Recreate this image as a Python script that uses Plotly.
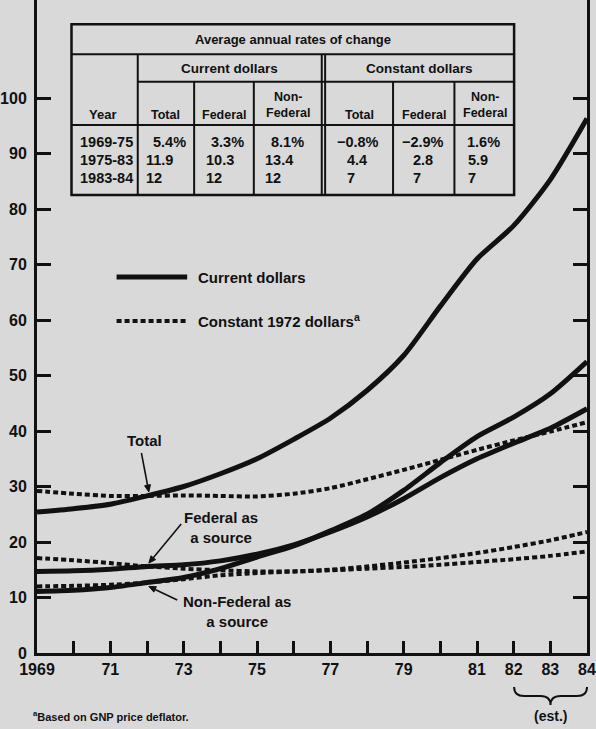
import math
import plotly.graph_objects as go

# ---- data -------------------------------------------------------------
years = list(range(1969, 1985))

# Billions of dollars
total_current = [25.4, 26.0, 26.8, 28.3, 30.0, 32.3, 35.0, 38.5, 42.3, 47.3, 53.6, 62.5, 71.0, 77.0, 85.3, 96.3]
total_constant = [29.2, 28.7, 28.3, 28.3, 28.4, 28.3, 28.2, 28.7, 29.7, 31.3, 33.0, 34.8, 36.6, 38.3, 39.9, 41.6]
federal_current = [14.7, 14.8, 15.1, 15.6, 15.9, 16.6, 17.8, 19.5, 21.8, 24.5, 27.8, 31.6, 35.0, 37.8, 40.5, 44.0]
nonfederal_current = [11.1, 11.3, 11.8, 12.7, 13.6, 15.2, 17.3, 19.3, 22.0, 25.0, 29.3, 34.3, 39.0, 42.5, 46.7, 52.5]
federal_constant = [17.1, 16.7, 16.2, 15.6, 15.2, 14.9, 14.7, 14.7, 14.9, 15.2, 15.5, 15.9, 16.4, 16.9, 17.5, 18.3]
nonfederal_constant = [12.0, 12.1, 12.3, 12.7, 13.3, 14.0, 14.4, 14.7, 15.0, 15.6, 16.3, 17.1, 18.0, 19.1, 20.3, 21.8]

y_ticks = list(range(0, 101, 10))
x_label_years = [1969, 1971, 1973, 1975, 1977, 1979, 1981, 1982, 1983, 1984]
x_tick_labels = ["1969", "71", "73", "75", "77", "79", "81", "82", "83", "84"]

# Average annual rates of change table
rate_title = "Average annual rates of change"
rate_groups = ["Current dollars", "Constant dollars"]
rate_columns = ["Total", "Federal", "Non-<br>Federal", "Total", "Federal", "Non-<br>Federal"]
rate_periods = ["1969-75", "1975-83", "1983-84"]
rate_current_total = ["5.4%", "11.9", "12"]
rate_current_federal = ["3.3%", "10.3", "12"]
rate_current_nonfederal = ["8.1%", "13.4", "12"]
rate_constant_total = ["\u22120.8%", "4.4", "7"]
rate_constant_federal = ["\u22122.9%", "2.8", "7"]
rate_constant_nonfederal = ["1.6%", "5.9", "7"]

# ---- layout geometry (pixels in a 596 x 729 page) ------------------------
W, H = 596, 729
PL, PR, PT, PB = 37, 590, 0, 653
X0, X1 = 1969, 1984
Y_TOP = 117.66

FONT = "Liberation Sans, Arial, sans-serif"
INK = "#111111"
BG = "#d9d9d9"


def px(x):
    return (x - PL) / (PR - PL)


def py(y):
    return (PB - y) / (PB - PT)


def data_to_pixel(xv, yv):
    return (PL + (xv - X0) / (X1 - X0) * (PR - PL),
            PB - yv / Y_TOP * (PB - PT))


fig = go.Figure()

solid = dict(color=INK, width=5, shape="spline", smoothing=0.7)
dotted = dict(color=INK, width=4, dash="5px,3px", shape="spline", smoothing=0.7)

for series in (total_current, federal_current, nonfederal_current):
    fig.add_trace(go.Scatter(x=years, y=series, mode="lines", line=solid,
                             showlegend=False, hoverinfo="skip"))
for series in (total_constant, federal_constant, nonfederal_constant):
    fig.add_trace(go.Scatter(x=years, y=series, mode="lines", line=dotted,
                             showlegend=False, hoverinfo="skip"))

shapes = []
annotations = []


def hline(x0, x1, y, w=2):
    shapes.append(dict(type="line", xref="paper", yref="paper",
                       x0=px(x0), x1=px(x1), y0=py(y), y1=py(y),
                       line=dict(color=INK, width=w)))


def vline(x, y0, y1, w=2):
    shapes.append(dict(type="line", xref="paper", yref="paper",
                       x0=px(x), x1=px(x), y0=py(y0), y1=py(y1),
                       line=dict(color=INK, width=w)))


def text(s, x, y, size=13, xanchor="center", yanchor="middle", align="center"):
    annotations.append(dict(text=s, xref="paper", yref="paper", x=px(x), y=py(y),
                            xanchor=xanchor, yanchor=yanchor, align=align,
                            showarrow=False,
                            font=dict(family=FONT, size=size, color=INK, weight="bold")))


def pointer(tail, tip, head_len=7, head_half=3):
    """Thin leader line with a filled arrowhead, in page pixels."""
    (x0, y0), (x1, y1) = tail, tip
    ang = math.atan2(y1 - y0, x1 - x0)
    bx, by = x1 - head_len * math.cos(ang), y1 - head_len * math.sin(ang)
    nx, ny = -math.sin(ang) * head_half, math.cos(ang) * head_half
    shapes.append(dict(type="line", xref="paper", yref="paper",
                       x0=px(x0), y0=py(y0), x1=px(bx), y1=py(by),
                       line=dict(color=INK, width=1.6)))
    path = (f"M {px(x1)},{py(y1)} L {px(bx + nx)},{py(by + ny)} "
            f"L {px(bx - nx)},{py(by - ny)} Z")
    shapes.append(dict(type="path", xref="paper", yref="paper", path=path,
                       fillcolor=INK, line=dict(color=INK, width=1)))


# ---- rates table ------------------------------------------------------------
TL, TR, TT, TB = 71.7, 516.7, 24.3, 195
shapes.append(dict(type="rect", xref="paper", yref="paper",
                   x0=px(TL), x1=px(TR), y0=py(TB), y1=py(TT),
                   line=dict(color=INK, width=2.5)))
hline(TL, TR, 54.3)
hline(138.3, TR, 81.7)
hline(TL, TR, 125)
vline(138.3, 54.3, TB)
vline(323.3, 54.3, TB)
vline(326.7, 54.3, TB)
for xv in (195, 255, 395, 456.7):
    vline(xv, 81.7, TB)

text(rate_title, (TL + TR) / 2, 39.5, size=13)
text(rate_groups[0], (138.3 + 323.3) / 2, 68.5, size=13.5)
text(rate_groups[1], (326.7 + TR) / 2, 68.5, size=13.5)
text("Year", 103, 114.5, size=13)
col_centers = [166.7, 225, 289, 361, 426, 487]
for label, cx in zip(rate_columns, col_centers):
    text(label, cx, 105 if "<br>" in label else 114.5, size=12.5)

row_y = [141.7, 160, 178.3]
first_row_x = [152, 210, 270, 337, 402, 467]
other_row_x = [145, 205, 264, 347, 413, 468]
table_cols = [rate_current_total, rate_current_federal, rate_current_nonfederal,
              rate_constant_total, rate_constant_federal, rate_constant_nonfederal]
for r, yv in enumerate(row_y):
    text(rate_periods[r], 78, yv, size=14.5, xanchor="left")
    for c, col in enumerate(table_cols):
        xl = first_row_x[c] if r == 0 else other_row_x[c]
        text(col[r], xl, yv, size=14.5, xanchor="left")

# ---- key ------------------------------------------------------------------
shapes.append(dict(type="line", xref="paper", yref="paper",
                   x0=px(117), x1=px(188), y0=py(277), y1=py(277),
                   line=dict(color=INK, width=5)))
shapes.append(dict(type="line", xref="paper", yref="paper",
                   x0=px(117), x1=px(188), y0=py(321), y1=py(321),
                   line=dict(color=INK, width=4, dash="5px,3px")))
text("Current dollars", 197, 277, size=15, xanchor="left")
text("Constant 1972 dollars<sup>a</sup>", 197, 320, size=15, xanchor="left")

# ---- series labels with pointers ------------------------------------------
text("Total", 145, 440, size=15)
text("Federal as<br>a source", 222, 527, size=15)
text("Non-Federal as<br>a source", 238, 611, size=15)

i72 = years.index(1972)
pointer((142, 453), data_to_pixel(1972.05, total_current[i72] + 0.7))
pointer((182, 524), data_to_pixel(1972.05, federal_current[i72] + 0.6))
pointer((178, 600), data_to_pixel(1972.05, nonfederal_current[i72] - 0.7))

# ---- estimate brace and footnote ----------------------------------------------
bx0, bx1, bxm = px(516.7), px(590), px(553.3)
by0, by1, by2 = py(687), py(696), py(705)
dx = px(526) - px(516)
brace = (f"M {bx0},{by0} Q {bx0},{by1} {bx0 + dx},{by1} "
         f"L {bxm - dx},{by1} Q {bxm},{by1} {bxm},{by2} "
         f"Q {bxm},{by1} {bxm + dx},{by1} "
         f"L {bx1 - dx},{by1} Q {bx1},{by1} {bx1},{by0}")
shapes.append(dict(type="path", xref="paper", yref="paper", path=brace,
                   line=dict(color=INK, width=2)))
text("(est.)", 553, 716, size=14)
text("<sup>a</sup>Based on GNP price deflator.", 31, 716, size=11, xanchor="left")

tick_font = dict(family=FONT, size=16, color=INK, weight="bold")

fig.update_layout(
    width=W, height=H,
    margin=dict(l=PL, r=W - PR, t=PT, b=H - PB, pad=0),
    paper_bgcolor=BG, plot_bgcolor=BG,
    shapes=shapes, annotations=annotations,
    showlegend=False,
    font=dict(family=FONT, color=INK),
    xaxis=dict(range=[X0, X1], tickvals=x_label_years, ticktext=x_tick_labels,
               ticks="inside", ticklen=12, tickwidth=2.5, tickcolor=INK,
               minor=dict(tickvals=years, ticks="inside", ticklen=12,
                          tickwidth=2.5, tickcolor=INK, showgrid=False),
               showline=True, linewidth=3, linecolor=INK, mirror=False,
               showgrid=False, zeroline=False, ticklabelstandoff=0,
               ticklabeloverflow="allow", tickfont=tick_font),
    yaxis=dict(range=[0, Y_TOP], tickvals=y_ticks,
               ticks="inside", ticklen=14, tickwidth=2.5, tickcolor=INK,
               showline=True, linewidth=3, linecolor=INK, mirror="ticks",
               showgrid=False, zeroline=False, ticklabelstandoff=4,
               tickfont=tick_font),
)

fig.write_html("out.html")
